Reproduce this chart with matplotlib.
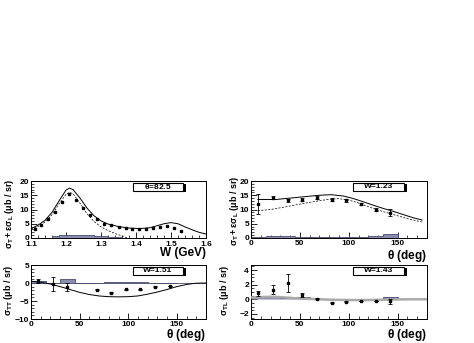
import matplotlib
matplotlib.use("Agg")
import matplotlib.pyplot as plt
from matplotlib.patches import Rectangle
from matplotlib.ticker import MultipleLocator

plt.rcParams['font.family'] = ['Liberation Sans', 'DejaVu Sans']
plt.rcParams['font.weight'] = 'bold'
plt.rcParams['mathtext.fontset'] = 'custom'
plt.rcParams['mathtext.rm'] = 'Liberation Sans:bold'
plt.rcParams['mathtext.it'] = 'Liberation Sans:bold'
plt.rcParams['mathtext.bf'] = 'Liberation Sans:bold'

band_fc = '#8a8cb0'
band_ec = '#4a4c70'

# ---- top left: sigma_T + eps sigma_L vs W at theta=82.5
w_pts = [1.11, 1.13, 1.15, 1.17, 1.19, 1.21, 1.23, 1.25, 1.27, 1.29, 1.31,
         1.33, 1.35, 1.37, 1.39, 1.41, 1.43, 1.45, 1.47, 1.49, 1.51, 1.53]
w_val = [3.2, 4.5, 6.5, 9.0, 12.5, 15.5, 13.5, 10.5, 8.0, 6.5, 5.0,
         4.5, 4.0, 3.5, 3.2, 3.2, 3.3, 3.5, 4.0, 4.3, 3.6, 2.5]
w_solid_x = [1.10, 1.12, 1.14, 1.16, 1.18, 1.20, 1.21, 1.22, 1.24, 1.26, 1.28, 1.30,
             1.32, 1.35, 1.38, 1.41, 1.44, 1.46, 1.48, 1.50, 1.52, 1.54, 1.56, 1.58, 1.60]
w_solid_y = [3.3, 4.5, 6.2, 9.0, 13.0, 16.8, 17.5, 17.0, 14.0, 10.5, 7.8, 6.0,
             4.9, 4.0, 3.5, 3.3, 3.6, 4.3, 5.0, 5.4, 5.0, 3.9, 2.9, 2.0, 1.4]
w_dash_x = [1.10, 1.12, 1.14, 1.16, 1.18, 1.20, 1.21, 1.22, 1.24, 1.26, 1.28, 1.30,
            1.32, 1.34, 1.36, 1.375]
w_dash_y = [3.0, 4.0, 5.6, 8.2, 12.0, 15.3, 16.0, 15.6, 12.2, 8.5, 5.8, 3.9,
            2.6, 1.6, 0.7, 0.0]
w_band_edges = [1.16, 1.18, 1.20, 1.22, 1.24, 1.26, 1.28, 1.30, 1.32, 1.34, 1.36]
w_band = [0.6, 0.9, 1.0, 1.1, 1.0, 0.9, 0.7, 0.6, 0.5, 0.4]

# ---- angular distributions
th_pts = [7.5, 22.5, 37.5, 52.5, 67.5, 82.5, 97.5, 112.5, 127.5, 142.5]
th_edges = [0, 15, 30, 45, 60, 75, 90, 105, 120, 135, 150]

# top right: W=1.23
s123_val = [12.0, 14.2, 13.2, 13.5, 14.2, 13.5, 13.2, 11.9, 10.0, 8.9]
s123_err = [3.5, 0.5, 0.5, 0.5, 0.4, 0.4, 0.4, 0.4, 0.4, 1.3]
s123_solid_x = [7, 25, 40, 55, 70, 82, 95, 105, 115, 125, 135, 145, 155, 165, 175]
s123_solid_y = [13.5, 13.5, 14.0, 14.5, 15.0, 15.2, 14.7, 13.8, 12.7, 11.5, 10.4, 9.4, 8.3, 7.2, 6.3]
s123_dash_x = [7, 20, 35, 50, 65, 80, 90, 100, 110, 120, 130, 140, 150, 160, 175]
s123_dash_y = [9.6, 10.0, 10.9, 11.9, 12.8, 13.6, 13.8, 13.3, 12.3, 11.0, 9.8, 8.8, 7.8, 6.8, 5.6]
s123_band = [0.4, 0.8, 0.6, 0.5, 0.5, 0.4, 0.4, 0.4, 0.6, 1.4]

# bottom left: sigma_TT, W=1.51
tt_x = [7.5, 22.5, 37.5, 67.5, 82.5, 97.5, 112.5, 127.5, 142.5]
tt_val = [0.6, -0.3, -1.2, -1.9, -2.7, -1.8, -1.8, -1.0, -0.8]
tt_err = [0.6, 1.9, 1.1, 0.1, 0.1, 0.1, 0.1, 0.1, 0.1]
tt_solid_x = [0, 10, 20, 30, 40, 50, 60, 70, 80, 90, 100, 110, 120, 130, 140, 150, 160, 170, 180]
tt_solid_y = [0.5, 0.2, -0.3, -1.0, -1.8, -2.6, -3.2, -3.6, -3.8, -3.85, -3.8, -3.6,
              -3.1, -2.5, -1.8, -1.0, -0.4, -0.05, 0.0]
tt_band = [0.5, 0.1, 1.0, 0.1, 0.1, 0.2, 0.3, 0.2, 0.1, 0.1]

# bottom right: sigma_TL, W=1.43
tl_val = [0.8, 1.3, 2.2, 0.6, 0.1, -0.45, -0.35, -0.25, -0.25, -0.3]
tl_err = [0.35, 0.6, 1.25, 0.3, 0.1, 0.05, 0.05, 0.05, 0.05, 0.3]
tl_curve_x = [0, 10, 20, 30, 40, 50, 60, 80, 100, 120, 140, 160, 180]
tl_curve_y = [0.25, 0.3, 0.35, 0.3, 0.2, 0.1, 0.05, -0.05, -0.1, -0.1, -0.05, 0.0, 0.0]
tl_band = [0.3, 0.45, 0.2, 0.35, 0.05, 0.05, 0.05, 0.05, 0.05, 0.35]


def band(ax, edges, h):
    ax.stairs(h, edges, baseline=0, fill=True, facecolor=band_fc, edgecolor=band_ec, lw=0.6, zorder=2)


def style(ax, xmaj, xmin, ymaj, ymin):
    ax.xaxis.set_major_locator(MultipleLocator(xmaj))
    ax.xaxis.set_minor_locator(MultipleLocator(xmin))
    ax.yaxis.set_major_locator(MultipleLocator(ymaj))
    ax.yaxis.set_minor_locator(MultipleLocator(ymin))
    ax.tick_params(which='both', direction='in', top=False, right=False, labelsize=6, pad=1.5)
    ax.tick_params(which='major', length=4, width=0.6)
    ax.tick_params(which='minor', length=2, width=0.5)
    for s in ax.spines.values():
        s.set_linewidth(0.7)


def tag(ax, txt):
    ax.add_patch(Rectangle((0.595, 0.80), 0.29, 0.15, transform=ax.transAxes,
                           facecolor='black', edgecolor='none', zorder=5, clip_on=False))
    ax.add_patch(Rectangle((0.58, 0.82), 0.29, 0.15, transform=ax.transAxes,
                           facecolor='white', edgecolor='black', lw=0.8, zorder=6, clip_on=False))
    ax.text(0.725, 0.895, txt, transform=ax.transAxes, ha='center', va='center',
            fontsize=6, fontweight='bold', zorder=7)


def ylab(ax, txt, x, top=1.08):
    ax.text(x, top, txt, transform=ax.transAxes, rotation=90, ha='center', va='top',
            fontsize=6.5, fontweight='bold')


def xlab(ax, txt, y):
    ax.text(1.0, y, txt, transform=ax.transAxes, ha='right', va='top',
            fontsize=8.5, fontweight='bold')


fig = plt.figure(figsize=(4.74, 3.43), dpi=100)
W, H = 474.0, 343.0
ax1 = fig.add_axes([31 / W, 1 - 238 / H, 175 / W, 57 / H])
ax2 = fig.add_axes([251 / W, 1 - 238 / H, 176 / W, 57 / H])
ax3 = fig.add_axes([31 / W, 1 - 319 / H, 175 / W, 54 / H])
ax4 = fig.add_axes([251 / W, 1 - 319 / H, 176 / W, 54 / H])

# top left
band(ax1, w_band_edges, w_band)
ax1.plot(w_solid_x, w_solid_y, color='black', lw=0.7, zorder=3)
ax1.plot(w_dash_x, w_dash_y, color='black', lw=0.5, ls=(0, (3, 2)), zorder=3)
ax1.plot(w_pts, w_val, 's', color='black', ms=1.6, zorder=4)
ax1.set_xlim(1.1, 1.6)
ax1.set_ylim(0, 20)
style(ax1, 0.1, 0.02, 5, 1)
ax1.tick_params(axis='x', pad=2.5)
tag(ax1, r'$\theta$=82.5')
ylab(ax1, r'$\sigma_T + \epsilon\sigma_L$ ($\mu$b / sr)', -0.125, 1.05)
xlab(ax1, 'W (GeV)', -0.16)

# top right
band(ax2, th_edges, s123_band)
ax2.plot(s123_solid_x, s123_solid_y, color='black', lw=0.7, zorder=3)
ax2.plot(s123_dash_x, s123_dash_y, color='black', lw=0.5, ls=(0, (3, 2)), zorder=3)
ax2.errorbar(th_pts, s123_val, yerr=s123_err, fmt='s', color='black', ms=1.6,
             elinewidth=0.6, capsize=1.2, capthick=0.6, zorder=4)
ax2.set_xlim(0, 180)
ax2.set_ylim(0, 20)
style(ax2, 50, 10, 5, 1)
tag(ax2, 'W=1.23')
ylab(ax2, r'$\sigma_T + \epsilon\sigma_L$ ($\mu$b / sr)', -0.095, 1.1)
xlab(ax2, r'$\theta$ (deg)', -0.17)

# bottom left
band(ax3, th_edges, tt_band)
ax3.axhline(0, color=band_ec, lw=0.6, zorder=2)
ax3.plot(tt_solid_x, tt_solid_y, color='black', lw=0.7, zorder=3)
ax3.errorbar(tt_x, tt_val, yerr=tt_err, fmt='s', color='black', ms=1.6,
             elinewidth=0.6, capsize=1.2, capthick=0.6, zorder=4)
ax3.set_xlim(0, 180)
ax3.set_ylim(-10, 5)
style(ax3, 5, 1, 5, 1)
ax3.xaxis.set_major_locator(MultipleLocator(50))
ax3.xaxis.set_minor_locator(MultipleLocator(10))
tag(ax3, 'W=1.51')
ylab(ax3, r'$\sigma_{TT}$ ($\mu$b / sr)', -0.13, 1.0)
xlab(ax3, r'$\theta$ (deg)', -0.15)

# bottom right
band(ax4, th_edges, tl_band)
ax4.plot(tl_curve_x, tl_curve_y, color='#aaaaaa', lw=1.8, zorder=3)
ax4.errorbar(th_pts, tl_val, yerr=tl_err, fmt='s', color='black', ms=1.6,
             elinewidth=0.6, capsize=1.2, capthick=0.6, zorder=4)
ax4.set_xlim(0, 180)
ax4.set_ylim(-2.7, 4.7)
style(ax4, 2, 0.5, 2, 0.5)
ax4.xaxis.set_major_locator(MultipleLocator(50))
ax4.xaxis.set_minor_locator(MultipleLocator(10))
tag(ax4, 'W=1.43')
ylab(ax4, r'$\sigma_{TL}$ ($\mu$b / sr)', -0.15, 1.0)
xlab(ax4, r'$\theta$ (deg)', -0.15)

fig.savefig('out.png', dpi=100)
